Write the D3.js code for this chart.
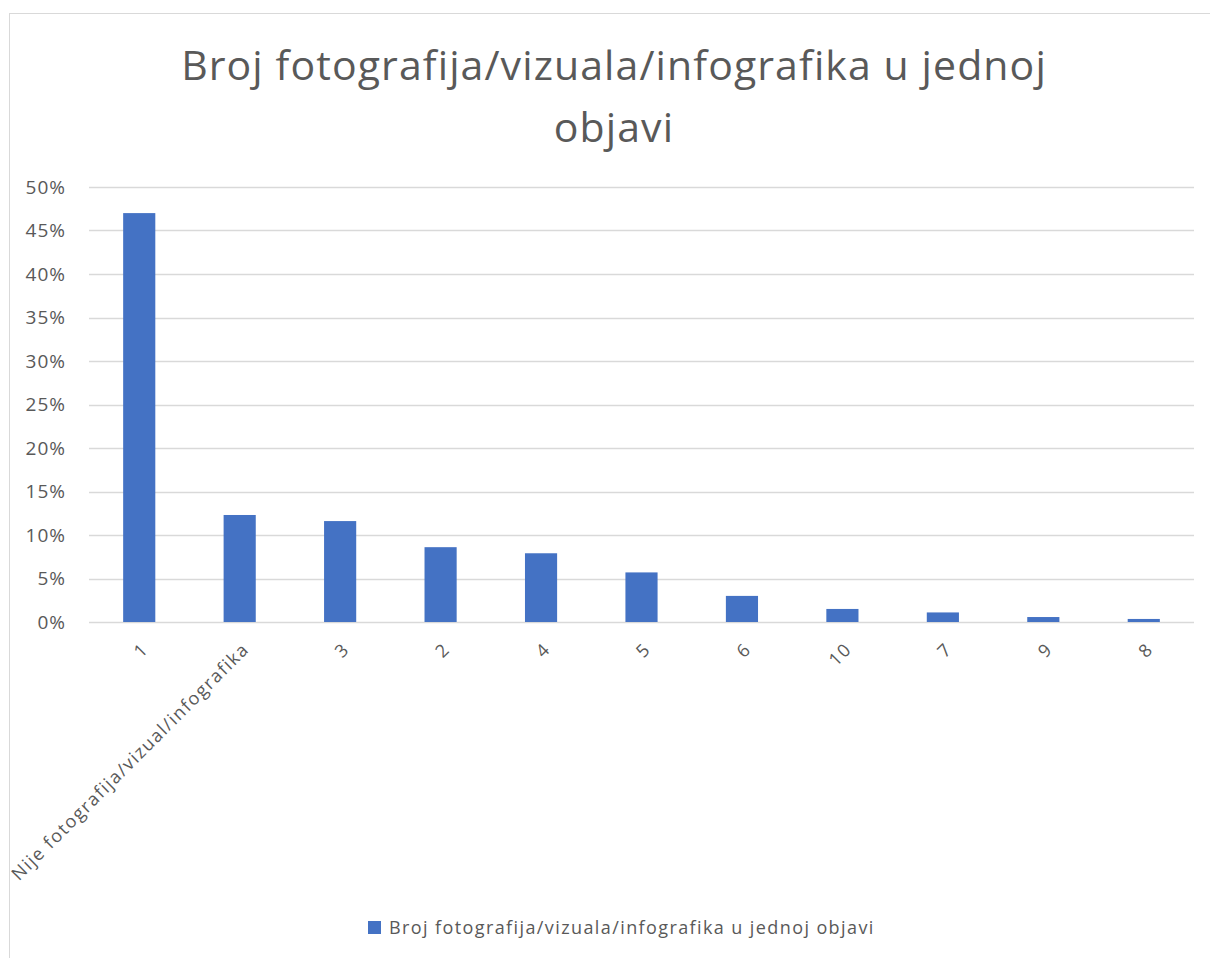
<!DOCTYPE html>
<html>
<head>
<meta charset="utf-8">
<script src="https://cdn.jsdelivr.net/npm/d3@7"></script>
<style>
  body { margin: 0; background: #fff; }
  text { font-family: "Open Sans", sans-serif; fill: #595959; }
</style>
</head>
<body>
<div id="chart"></div>
<script>
// chart data
const categories = ["1", "Nije fotografija/vizual/infografika", "3", "2", "4", "5", "6", "10", "7", "9", "8"];
const values = [0.47, 0.123, 0.116, 0.086, 0.079, 0.057, 0.030, 0.015, 0.011, 0.0057, 0.0035];
const yTicks = [0, 0.05, 0.1, 0.15, 0.2, 0.25, 0.3, 0.35, 0.4, 0.45, 0.5];
const seriesName = "Broj fotografija/vizuala/infografika u jednoj objavi";
const titleLines = ["Broj fotografija/vizuala/infografika u jednoj", "objavi"];

const W = 1210, H = 958;
const margin = {top: 187, right: 16, bottom: 336, left: 89};
const width = W - margin.left - margin.right;
const height = H - margin.top - margin.bottom;

const svg = d3.select("#chart").append("svg")
    .attr("width", W)
    .attr("height", H);

// outer chart border
svg.append("rect")
    .attr("x", 9.5).attr("y", 13.5)
    .attr("width", W + 20).attr("height", H + 20)
    .attr("fill", "none")
    .attr("stroke", "#d9d9d9");

// title
svg.append("text")
    .attr("text-anchor", "middle")
    .attr("font-size", 41)
    .style("letter-spacing", "1.1px")
    .selectAll("tspan")
    .data(titleLines)
    .enter()
    .append("tspan")
    .attr("x", 614)
    .attr("y", (d, i) => 80 + i * 62)
    .text(d => d);

const g = svg.append("g")
    .attr("transform", `translate(${margin.left},${margin.top})`);

const x = d3.scaleBand()
    .domain(categories)
    .range([0, width])
    .paddingInner(0.68)
    .paddingOuter(0.34);

const y = d3.scaleLinear()
    .domain([0, 0.5])
    .range([height, 0]);

// gridlines
g.append("g")
    .selectAll("line")
    .data(yTicks)
    .enter()
    .append("line")
    .attr("x1", 0).attr("x2", width)
    .attr("y1", d => Math.round(y(d)) + 0.5)
    .attr("y2", d => Math.round(y(d)) + 0.5)
    .attr("stroke", "#d9d9d9")
    .attr("stroke-width", 1.5);

// y axis labels
const yAxis = g.append("g")
    .call(d3.axisLeft(y).tickValues(yTicks).tickFormat(d3.format(".0%")).tickSize(0).tickPadding(23));
yAxis.select(".domain").remove();
yAxis.selectAll("text")
    .attr("font-size", 19)
    .attr("fill", "#595959")
    .style("font-family", "'Open Sans', sans-serif")
    .style("letter-spacing", "1px");

// bars
g.selectAll(".bar")
    .data(values)
    .enter()
    .append("rect")
    .attr("class", "bar")
    .attr("x", (d, i) => x(categories[i]))
    .attr("y", d => y(d))
    .attr("width", x.bandwidth())
    .attr("height", d => height - y(d))
    .attr("fill", "#4472c4");

// x axis labels
const xAxis = g.append("g")
    .attr("transform", `translate(0,${height})`)
    .call(d3.axisBottom(x).tickSize(0).tickPadding(0));
xAxis.select(".domain").remove();
xAxis.selectAll("text")
    .attr("font-size", 18)
    .attr("fill", "#595959")
    .style("font-family", "'Open Sans', sans-serif")
    .style("letter-spacing", "1.5px")
    .attr("text-anchor", "end")
    .attr("dy", "0.35em")
    .attr("transform", "translate(6,24) rotate(-45)");

// legend
const legend = svg.append("g")
    .attr("transform", "translate(368,921)");
legend.append("rect")
    .attr("width", 13).attr("height", 13)
    .attr("fill", "#4472c4");
legend.append("text")
    .attr("x", 21).attr("y", 13)
    .attr("font-size", 18)
    .style("letter-spacing", "1.4px")
    .text(seriesName);
</script>
</body>
</html>
